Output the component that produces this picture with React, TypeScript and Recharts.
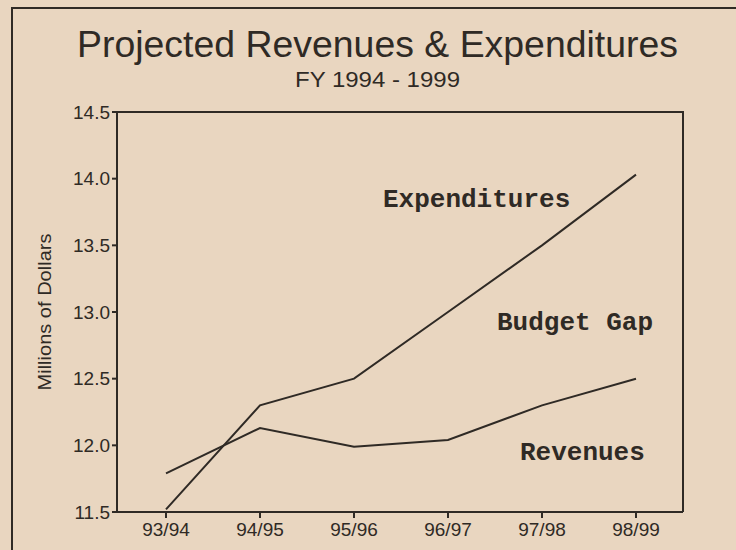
import { LineChart, Line, XAxis, YAxis } from "recharts";

const years = ["93/94", "94/95", "95/96", "96/97", "97/98", "98/99"];
const expenditures = [11.52, 12.3, 12.5, 13.0, 13.5, 14.03];
const revenues = [11.79, 12.13, 11.99, 12.04, 12.3, 12.5];
const yTicks = [11.5, 12.0, 12.5, 13.0, 13.5, 14.0, 14.5];

const INK = "#2f2a25";
const PAPER = "#e9d6c0";
const sans = "'Liberation Sans', Arial, Helvetica, sans-serif";
const mono = "'Liberation Mono', 'Courier New', monospace";

// plot box edges, matching the chart margins below
const PLOT = { left: 117, top: 112, right: 683, bottom: 512 };

const data = years.map((year, i) => ({
  year,
  expenditures: expenditures[i],
  revenues: revenues[i],
}));

export default function App() {
  return (
    <div
      style={{
        position: "absolute",
        left: 0,
        top: 0,
        width: 736,
        height: 550,
        overflow: "hidden",
        background: PAPER,
      }}
    >
      <LineChart
        width={736}
        height={550}
        data={data}
        margin={{ top: PLOT.top, right: 736 - PLOT.right, bottom: 8, left: PLOT.left - 60 }}
        style={{ position: "absolute", left: 0, top: 0 }}
      >
        <XAxis
          dataKey="year"
          height={30}
          padding={{ left: 49, right: 47 }}
          stroke={INK}
          strokeWidth={2}
          tickSize={6}
          tickMargin={5}
          tick={{ fill: INK, fontFamily: sans, fontSize: 19 }}
        />
        <YAxis
          type="number"
          domain={[11.5, 14.5]}
          ticks={yTicks}
          width={60}
          stroke={INK}
          strokeWidth={2}
          tickSize={5}
          tickMargin={2}
          tickFormatter={(v: number) => v.toFixed(1)}
          tick={{ fill: INK, fontFamily: sans, fontSize: 19 }}
        />
        <Line
          dataKey="expenditures"
          type="linear"
          stroke={INK}
          strokeWidth={2}
          dot={false}
          isAnimationActive={false}
        />
        <Line
          dataKey="revenues"
          type="linear"
          stroke={INK}
          strokeWidth={2}
          dot={false}
          isAnimationActive={false}
        />
      </LineChart>
      <svg
        width={736}
        height={550}
        style={{ position: "absolute", left: 0, top: 0, pointerEvents: "none" }}
      >
        {/* clipping frame: only its left and top rules are on the page */}
        <polyline points="12,550 12,8 736,8" fill="none" stroke={INK} strokeWidth={2} />
        {/* top and right sides of the plot box */}
        <polyline
          points={`${PLOT.left},${PLOT.top} ${PLOT.right},${PLOT.top} ${PLOT.right},${PLOT.bottom}`}
          fill="none"
          stroke={INK}
          strokeWidth={2}
        />
        <text
          x={377.5}
          y={57}
          textAnchor="middle"
          fontFamily={sans}
          fontSize={37}
          fill={INK}
          textLength={601}
          lengthAdjust="spacingAndGlyphs"
        >
          Projected Revenues &amp; Expenditures
        </text>
        <text
          x={377.5}
          y={87}
          textAnchor="middle"
          fontFamily={sans}
          fontSize={22}
          fill={INK}
          textLength={165}
          lengthAdjust="spacingAndGlyphs"
        >
          FY 1994 - 1999
        </text>
        <text
          x={45}
          y={312}
          transform="rotate(-90 45 312)"
          textAnchor="middle"
          dominantBaseline="central"
          fontFamily={sans}
          fontSize={18}
          fill={INK}
          textLength={157}
          lengthAdjust="spacingAndGlyphs"
        >
          Millions of Dollars
        </text>
        <g fontFamily={mono} fontSize={26} fontWeight="bold" fill={INK}>
          <text x={383} y={207}>Expenditures</text>
          <text x={497} y={330}>Budget Gap</text>
          <text x={520} y={460}>Revenues</text>
        </g>
      </svg>
    </div>
  );
}
